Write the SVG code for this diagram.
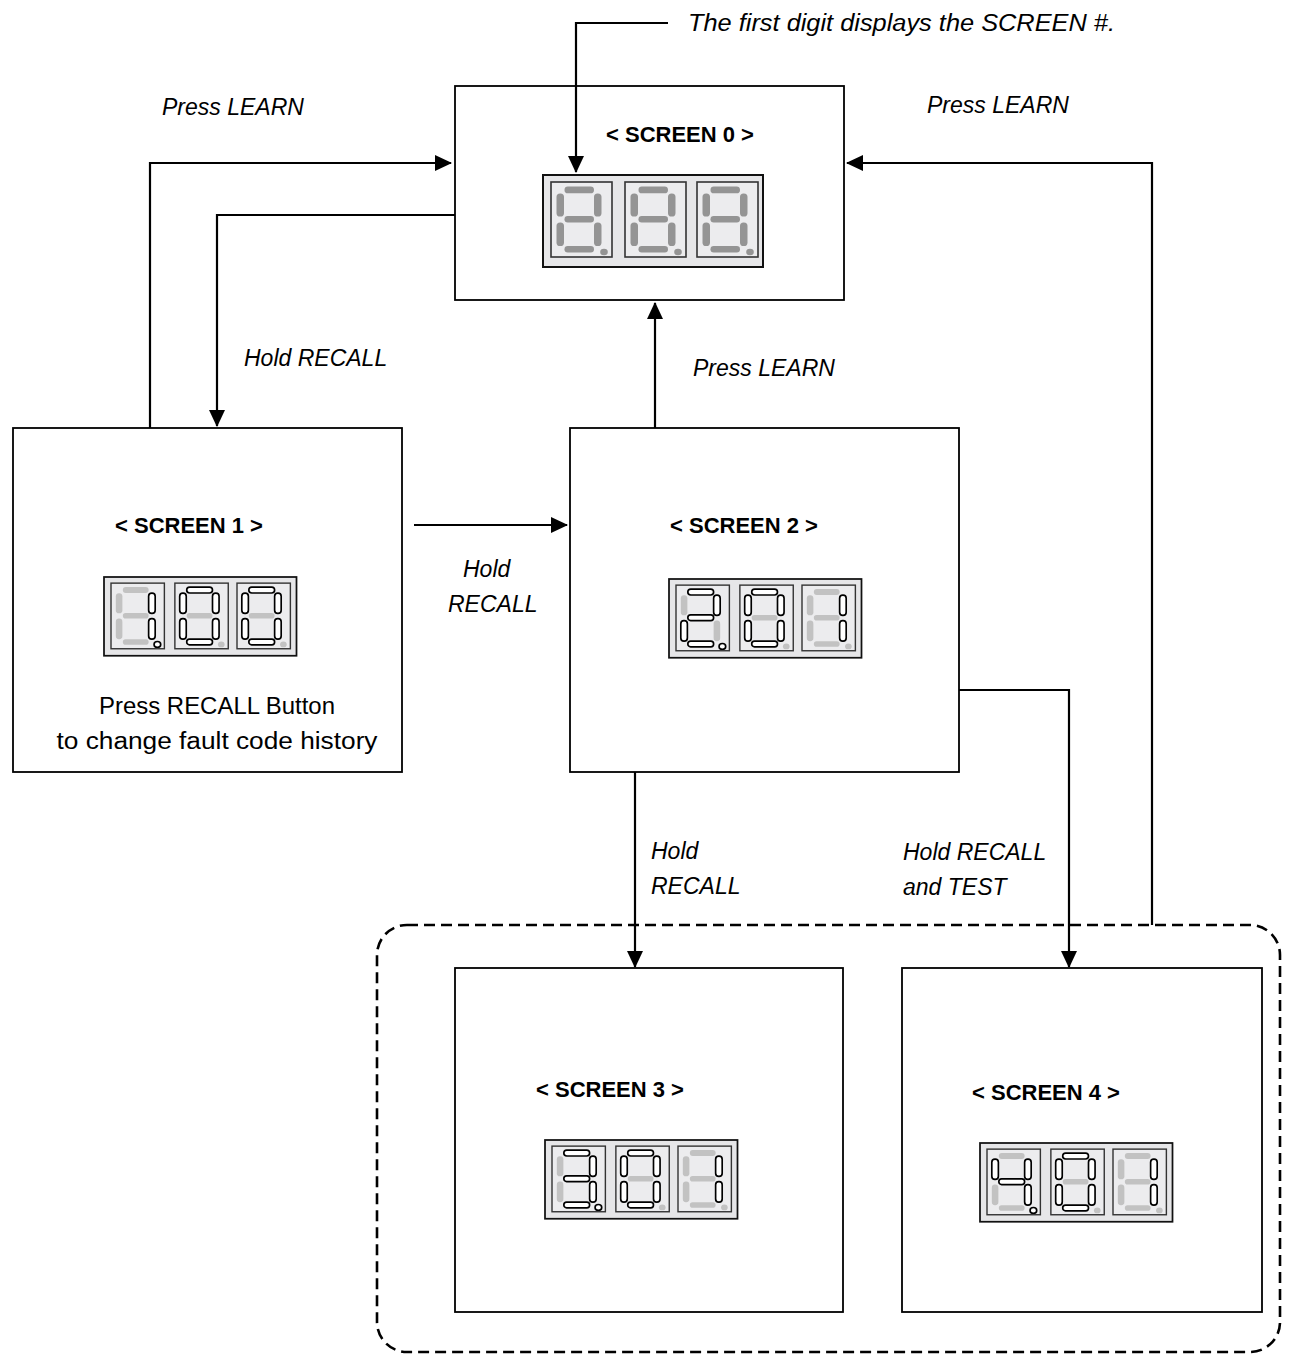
<svg xmlns="http://www.w3.org/2000/svg" width="1293" height="1354" viewBox="0 0 1293 1354">
<style>
.box{fill:#fff;stroke:#000;stroke-width:1.8}
.dash{fill:none;stroke:#000;stroke-width:2.6;stroke-dasharray:11 6}
.conn{fill:none;stroke:#000;stroke-width:2.2}
.lbl{font-family:"Liberation Sans",Arial,sans-serif;font-style:italic;font-size:23px;fill:#000}
.title{font-family:"Liberation Sans",Arial,sans-serif;font-weight:bold;font-size:22px;fill:#000;text-anchor:middle}
.body{font-family:"Liberation Sans",Arial,sans-serif;font-size:23px;fill:#000;text-anchor:middle}
.disp{fill:#e6e6e8;stroke:#111;stroke-width:2}
.cell{fill:#ececee;stroke:#333;stroke-width:1.6}
.g0{fill:#949494}
.off{fill:#c2c2c2}
.on{fill:#fff;stroke:#000;stroke-width:1.9}
</style>
<defs>
<marker id="ah" viewBox="0 0 17 16" refX="16" refY="8" markerWidth="17" markerHeight="16" markerUnits="userSpaceOnUse" orient="auto">
<path d="M0,0 L17,8 L0,16 z" fill="#000"/>
</marker>
<rect id="fr" x="0" y="0" width="61" height="75"/>
<rect id="sa" x="13.5" y="4.5" width="29.5" height="6.8" rx="3.4"/>
<rect id="sf" x="5.5" y="11.5" width="7.5" height="23" rx="3.6"/>
<rect id="sb" x="43" y="11.5" width="7.5" height="23" rx="3.6"/>
<rect id="sg" x="13.5" y="34" width="29.5" height="6.5" rx="3.2"/>
<rect id="se" x="5.5" y="40.5" width="7.5" height="23.5" rx="3.6"/>
<rect id="sc" x="43" y="40.5" width="7.5" height="23.5" rx="3.6"/>
<rect id="sd" x="13.5" y="64" width="29.5" height="6.5" rx="3.2"/>
<ellipse id="dp" cx="53" cy="70" rx="3.8" ry="3.3"/>
</defs>

<!-- Screen 0 -->
<g id="screen0">
<rect class="box" x="455" y="86" width="389" height="214"/>
<text class="title" x="680" y="142">&lt; SCREEN 0 &gt;</text>
<g transform="translate(543,175)">
<rect class="disp" x="0" y="0" width="220" height="92"/>
<g transform="translate(8,7)"><use href="#fr" class="cell"/><use href="#sa" class="g0"/><use href="#sb" class="g0"/><use href="#sc" class="g0"/><use href="#sd" class="g0"/><use href="#se" class="g0"/><use href="#sf" class="g0"/><use href="#sg" class="g0"/><use href="#dp" class="g0"/></g>
<g transform="translate(82,7)"><use href="#fr" class="cell"/><use href="#sa" class="g0"/><use href="#sb" class="g0"/><use href="#sc" class="g0"/><use href="#sd" class="g0"/><use href="#se" class="g0"/><use href="#sf" class="g0"/><use href="#sg" class="g0"/><use href="#dp" class="g0"/></g>
<g transform="translate(154,7)"><use href="#fr" class="cell"/><use href="#sa" class="g0"/><use href="#sb" class="g0"/><use href="#sc" class="g0"/><use href="#sd" class="g0"/><use href="#se" class="g0"/><use href="#sf" class="g0"/><use href="#sg" class="g0"/><use href="#dp" class="g0"/></g>
</g>
</g>

<!-- Screen 1 -->
<g id="screen1">
<rect class="box" x="13" y="428" width="389" height="344"/>
<text class="title" x="189" y="533">&lt; SCREEN 1 &gt;</text>
<g transform="translate(104,577) scale(0.875)">
<rect class="disp" x="0" y="0" width="220" height="90"/>
<g transform="translate(8,7)"><use href="#fr" class="cell"/><use href="#sa" class="off"/><use href="#sf" class="off"/><use href="#sg" class="off"/><use href="#se" class="off"/><use href="#sd" class="off"/><use href="#sb" class="on"/><use href="#sc" class="on"/><use href="#dp" class="on"/></g>
<g transform="translate(81,7)"><use href="#fr" class="cell"/><use href="#sg" class="off"/><use href="#dp" class="off"/><use href="#sa" class="on"/><use href="#sb" class="on"/><use href="#sc" class="on"/><use href="#sd" class="on"/><use href="#se" class="on"/><use href="#sf" class="on"/></g>
<g transform="translate(152,7)"><use href="#fr" class="cell"/><use href="#sg" class="off"/><use href="#dp" class="off"/><use href="#sa" class="on"/><use href="#sb" class="on"/><use href="#sc" class="on"/><use href="#sd" class="on"/><use href="#se" class="on"/><use href="#sf" class="on"/></g>
</g>
<text class="body" x="217" y="714" textLength="236" lengthAdjust="spacingAndGlyphs">Press RECALL Button</text>
<text class="body" x="217" y="749" textLength="321" lengthAdjust="spacingAndGlyphs">to change fault code history</text>
</g>

<!-- Screen 2 -->
<g id="screen2">
<rect class="box" x="570" y="428" width="389" height="344"/>
<text class="title" x="744" y="533">&lt; SCREEN 2 &gt;</text>
<g transform="translate(669,579) scale(0.875)">
<rect class="disp" x="0" y="0" width="220" height="90"/>
<g transform="translate(8,7)"><use href="#fr" class="cell"/><use href="#sf" class="off"/><use href="#sc" class="off"/><use href="#sa" class="on"/><use href="#sb" class="on"/><use href="#sg" class="on"/><use href="#se" class="on"/><use href="#sd" class="on"/><use href="#dp" class="on"/></g>
<g transform="translate(81,7)"><use href="#fr" class="cell"/><use href="#sg" class="off"/><use href="#dp" class="off"/><use href="#sa" class="on"/><use href="#sb" class="on"/><use href="#sc" class="on"/><use href="#sd" class="on"/><use href="#se" class="on"/><use href="#sf" class="on"/></g>
<g transform="translate(152,7)"><use href="#fr" class="cell"/><use href="#sa" class="off"/><use href="#sf" class="off"/><use href="#sg" class="off"/><use href="#se" class="off"/><use href="#sd" class="off"/><use href="#dp" class="off"/><use href="#sb" class="on"/><use href="#sc" class="on"/></g>
</g>
</g>

<!-- Screen 3 -->
<g id="screen3">
<rect class="box" x="455" y="968" width="388" height="344"/>
<text class="title" x="610" y="1097">&lt; SCREEN 3 &gt;</text>
<g transform="translate(545,1140) scale(0.875)">
<rect class="disp" x="0" y="0" width="220" height="90"/>
<g transform="translate(8,7)"><use href="#fr" class="cell"/><use href="#sf" class="off"/><use href="#se" class="off"/><use href="#sa" class="on"/><use href="#sb" class="on"/><use href="#sg" class="on"/><use href="#sc" class="on"/><use href="#sd" class="on"/><use href="#dp" class="on"/></g>
<g transform="translate(81,7)"><use href="#fr" class="cell"/><use href="#sg" class="off"/><use href="#dp" class="off"/><use href="#sa" class="on"/><use href="#sb" class="on"/><use href="#sc" class="on"/><use href="#sd" class="on"/><use href="#se" class="on"/><use href="#sf" class="on"/></g>
<g transform="translate(152,7)"><use href="#fr" class="cell"/><use href="#sa" class="off"/><use href="#sf" class="off"/><use href="#sg" class="off"/><use href="#se" class="off"/><use href="#sd" class="off"/><use href="#dp" class="off"/><use href="#sb" class="on"/><use href="#sc" class="on"/></g>
</g>
</g>

<!-- Screen 4 -->
<g id="screen4">
<rect class="box" x="902" y="968" width="360" height="344"/>
<text class="title" x="1046" y="1100">&lt; SCREEN 4 &gt;</text>
<g transform="translate(980,1143) scale(0.875)">
<rect class="disp" x="0" y="0" width="220" height="90"/>
<g transform="translate(8,7)"><use href="#fr" class="cell"/><use href="#sa" class="off"/><use href="#se" class="off"/><use href="#sd" class="off"/><use href="#sf" class="on"/><use href="#sb" class="on"/><use href="#sg" class="on"/><use href="#sc" class="on"/><use href="#dp" class="on"/></g>
<g transform="translate(81,7)"><use href="#fr" class="cell"/><use href="#sg" class="off"/><use href="#dp" class="off"/><use href="#sa" class="on"/><use href="#sb" class="on"/><use href="#sc" class="on"/><use href="#sd" class="on"/><use href="#se" class="on"/><use href="#sf" class="on"/></g>
<g transform="translate(152,7)"><use href="#fr" class="cell"/><use href="#sa" class="off"/><use href="#sf" class="off"/><use href="#sg" class="off"/><use href="#se" class="off"/><use href="#sd" class="off"/><use href="#dp" class="off"/><use href="#sb" class="on"/><use href="#sc" class="on"/></g>
</g>
</g>

<!-- Group frame (screens 3 and 4) -->
<g id="group34">
<rect class="dash" x="377" y="925" width="903" height="427" rx="30"/>
</g>

<!-- Connectors -->
<g id="connectors">
<path class="conn" d="M150,428 V163 H451" marker-end="url(#ah)"/>
<path class="conn" d="M455,215 H217 V426" marker-end="url(#ah)"/>
<path class="conn" d="M414,525 H567" marker-end="url(#ah)"/>
<path class="conn" d="M655,428 V303" marker-end="url(#ah)"/>
<path class="conn" d="M959,690 H1069 V967" marker-end="url(#ah)"/>
<path class="conn" d="M635,772 V967" marker-end="url(#ah)"/>
<path class="conn" d="M1152,925 V163 H847" marker-end="url(#ah)"/>
<path class="conn" d="M668,23 H576 V172" marker-end="url(#ah)"/>
</g>

<!-- Labels -->
<g id="labels">
<text class="lbl" x="688" y="31" textLength="427" lengthAdjust="spacingAndGlyphs">The first digit displays the SCREEN #.</text>
<text class="lbl" x="162" y="115">Press LEARN</text>
<text class="lbl" x="927" y="113">Press LEARN</text>
<text class="lbl" x="244" y="366">Hold RECALL</text>
<text class="lbl" x="693" y="376">Press LEARN</text>
<text class="lbl" x="463" y="577">Hold</text>
<text class="lbl" x="448" y="612">RECALL</text>
<text class="lbl" x="651" y="859">Hold</text>
<text class="lbl" x="651" y="894">RECALL</text>
<text class="lbl" x="903" y="860">Hold RECALL</text>
<text class="lbl" x="903" y="895">and TEST</text>
</g>
</svg>
